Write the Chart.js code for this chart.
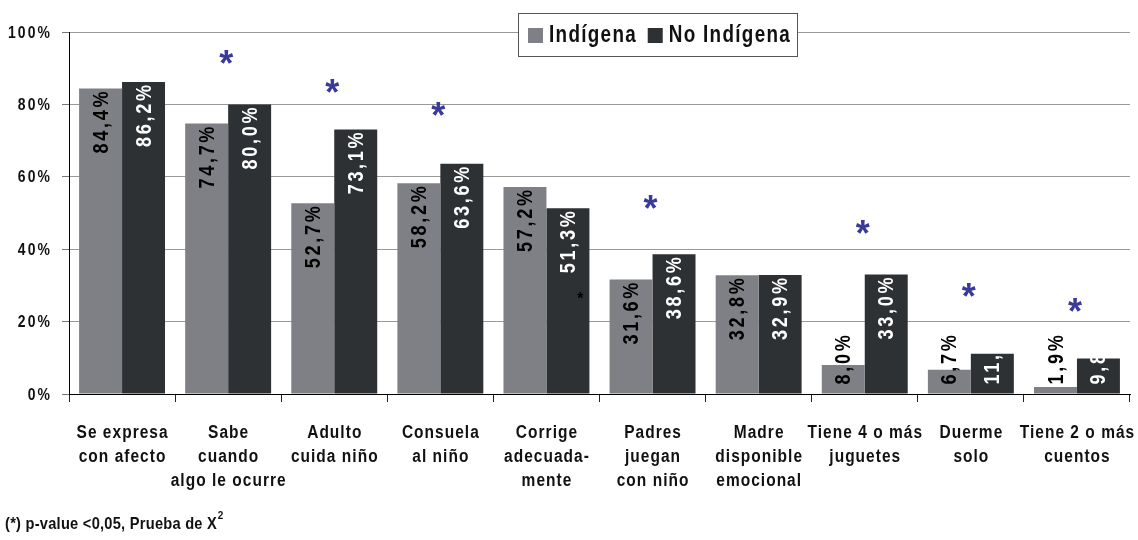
<!DOCTYPE html>
<html>
<head>
<meta charset="utf-8">
<script src="https://cdn.jsdelivr.net/npm/chart.js@4.4.0/dist/chart.umd.min.js"></script>
<style>
html, body { margin: 0; padding: 0; background: #fff; }
</style>
</head>
<body>
<canvas id="chart-crianza" width="1138" height="540"></canvas>
<script>
const categories = [
    ['Se expresa', 'con afecto'],
    ['Sabe', 'cuando', 'algo le ocurre'],
    ['Adulto', 'cuida niño'],
    ['Consuela', 'al niño'],
    ['Corrige', 'adecuada-', 'mente'],
    ['Padres', 'juegan', 'con niño'],
    ['Madre', 'disponible', 'emocional'],
    ['Tiene 4 o más', 'juguetes'],
    ['Duerme', 'solo'],
    ['Tiene 2 o más', 'cuentos']
];
const indigena = [84.4, 74.7, 52.7, 58.2, 57.2, 31.6, 32.8, 8.0, 6.7, 1.9];
const noIndigena = [86.2, 80.0, 73.1, 63.6, 51.3, 38.6, 32.9, 33.0, 11.1, 9.8];
const yTicks = [0, 20, 40, 60, 80, 100];
// blue asterisks (p < 0,05), height in % where the mark sits
const significance = [null, 92.8, 84.8, 78.5, null, 52.8, null, 45.9, 28.5, 24.3];
// stray small black asterisk inside "Corrige" dark bar
const smallMark = [null, null, null, null, 27.3, null, null, null, null, null];
const footnote = '(*) p-value <0,05, Prueba de X';

const FONT = '"Liberation Sans", Arial, sans-serif';

function fmt(v) {
    return v.toFixed(1).replace('.', ',') + '%';
}

// squeezed, letter-spaced text (looks like Arial Narrow)
function narrowText(ctx, text, x, y, size, spacing, sx, align) {
    ctx.save();
    ctx.translate(x, y);
    ctx.scale(sx, 1);
    ctx.font = 'bold ' + size + 'px ' + FONT;
    ctx.letterSpacing = '0px';
    const w = ctx.measureText(text).width + spacing * (text.length - 1);
    ctx.letterSpacing = spacing + 'px';
    ctx.textAlign = 'left';
    let start = 0;
    if (align === 'center') start = -w / 2;
    if (align === 'right') start = -w;
    ctx.fillText(text, start, 0);
    ctx.restore();
    return w * sx;
}

const extras = {
    id: 'extras',
    afterDatasetsDraw(chart) {
        const ctx = chart.ctx;
        const x = chart.scales.x;
        const y = chart.scales.y;
        ctx.save();
        ctx.textBaseline = 'middle';
        chart.data.datasets.forEach((ds, di) => {
            const meta = chart.getDatasetMeta(di);
            meta.data.forEach((bar, i) => {
                const v = ds.data[i];
                ctx.save();
                ctx.fillStyle = di === 0 ? '#000' : '#fff';
                if (v < 12) {
                    ctx.translate(bar.x + 1, bar.base - 9);
                    ctx.rotate(-Math.PI / 2);
                    narrowText(ctx, fmt(v), 0, 0, 22, 3.3, 0.82, 'left');
                } else {
                    ctx.translate(bar.x + 1, bar.y + 3);
                    ctx.rotate(-Math.PI / 2);
                    narrowText(ctx, fmt(v), 0, 0, 22, 3.3, 0.82, 'right');
                }
                ctx.restore();
            });
        });

        // asterisks
        ctx.letterSpacing = '0px';
        ctx.textAlign = 'center';
        ctx.fillStyle = '#3a3a98';
        ctx.font = 'bold 36px ' + FONT;
        significance.forEach((s, i) => {
            if (s === null) return;
            ctx.fillText('*', x.getPixelForValue(i) - 2, y.getPixelForValue(s) + 8);
        });
        const darkMeta = chart.getDatasetMeta(1);
        ctx.fillStyle = '#000';
        ctx.font = 'bold 16px ' + FONT;
        smallMark.forEach((s, i) => {
            if (s === null) return;
            const bar = darkMeta.data[i];
            ctx.fillText('*', bar.x + bar.width / 2 - 9, y.getPixelForValue(s) + 4);
        });
        ctx.restore();
    },
    afterDraw(chart) {
        const ctx = chart.ctx;
        const x = chart.scales.x;
        const y = chart.scales.y;
        ctx.save();
        ctx.textBaseline = 'middle';
        ctx.fillStyle = '#111';

        // y tick labels
        yTicks.forEach(v => {
            narrowText(ctx, v + '%', 50, y.getPixelForValue(v) + 1, 17, 2.6, 0.82, 'right');
        });

        // category labels
        categories.forEach((lines, i) => {
            const cx = x.getPixelForValue(i);
            lines.forEach((t, j) => {
                narrowText(ctx, t, cx, 433 + j * 24, 18, 1.2, 0.86, 'center');
            });
        });

        // footnote
        const w = narrowText(ctx, footnote, 5, 524, 17, 0.3, 0.86, 'left');
        narrowText(ctx, '2', 5 + w + 1, 516, 11, 0, 0.9, 'left');

        // legend box
        const lx = 518, ly = 13, lw = 279, lh = 43;
        ctx.fillStyle = '#fff';
        ctx.fillRect(lx, ly, lw, lh);
        ctx.strokeStyle = '#555';
        ctx.lineWidth = 1;
        ctx.strokeRect(lx + 0.5, ly + 0.5, lw, lh);
        let px = lx + 10;
        chart.data.datasets.forEach((ds) => {
            ctx.fillStyle = ds.backgroundColor;
            ctx.fillRect(px, 28, 15, 15);
            px += 21;
            ctx.fillStyle = '#111';
            px += narrowText(ctx, ds.label, px, 36, 23, 1.6, 0.82, 'left') + 12;
        });
        ctx.restore();
    }
};

const ctx = document.getElementById('chart-crianza').getContext('2d');
const myChart = new Chart(ctx, {
    type: 'bar',
    data: {
        labels: categories,
        datasets: [{
                label: 'Indígena',
                data: indigena,
                backgroundColor: '#7f8085',
                borderWidth: 0
            }, {
                label: 'No Indígena',
                data: noIndigena,
                backgroundColor: '#2e3134',
                borderWidth: 0
            }]
    },
    options: {
        responsive: false,
        animation: false,
        events: [],
        layout: {
            padding: { top: 32, right: 8, left: 0, bottom: 0 }
        },
        plugins: {
            legend: { display: false },
            tooltip: { enabled: false }
        },
        datasets: {
            bar: {
                categoryPercentage: 0.81,
                barPercentage: 1
            }
        },
        scales: {
            x: {
                offset: true,
                grid: {
                    offset: true,
                    drawOnChartArea: false,
                    tickLength: 8,
                    color: '#222'
                },
                border: { color: '#000', width: 1 },
                ticks: { display: false },
                afterFit(scale) { scale.height = 146; }
            },
            y: {
                min: 0,
                max: 100,
                afterBuildTicks(scale) {
                    scale.ticks = yTicks.map(v => ({ value: v }));
                },
                grid: {
                    color: '#999',
                    tickColor: '#777',
                    tickLength: 7
                },
                border: { color: '#000', width: 1 },
                ticks: { display: false },
                afterFit(scale) { scale.width = 69; }
            }
        }
    },
    plugins: [extras]
});
</script>
</body>
</html>
